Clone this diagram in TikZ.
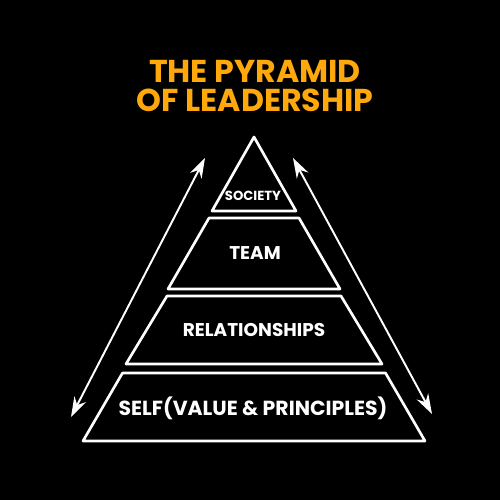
\documentclass[tikz,border=0pt]{standalone}
\usepackage{fontspec}
\setmainfont{Poppins}
\usetikzlibrary{arrows.meta}

\definecolor{titleorange}{RGB}{255,168,12}

\begin{document}
\begin{tikzpicture}
%\draw [help lines] (0,0) grid (10,10);
    \fill [black] (0,0) rectangle (10,10);
    \useasboundingbox (0,0) rectangle (10,10);
    \tikzset{tier/.style = {draw = white, line width = 1.5pt, line join = round},
             lbl/.style = {text = white, font = \bfseries, inner sep = 0pt}}
    % title
    \node [text = titleorange, align = center, font = \fontsize{18}{16.5}\selectfont\bfseries, inner sep = 0pt] (title) at (5.1,8.27) {THE PYRAMID\\OF LEADERSHIP};
    % pyramid
    \draw [tier] (5.08,7.26) -- (5.92,5.78) -- (4.24,5.78) -- cycle;
    \draw [tier] (4.18,5.64) -- (5.98,5.64) -- (6.80,4.22) -- (3.36,4.22) -- cycle;
    \draw [tier] (3.34,4.08) -- (6.82,4.08) -- (7.64,2.72) -- (2.52,2.72) -- cycle;
    \draw [tier] (2.45,2.54) -- (7.71,2.54) -- (8.50,1.18) -- (1.66,1.18) -- cycle;
    \node [lbl, font = \fontsize{7.5}{9}\selectfont\bfseries] (soc) at (5.06,6.08) {SOCIETY};
    \node [lbl, font = \fontsize{10.5}{12}\selectfont\bfseries] (team) at (5.1,4.94) {TEAM};
    \node [lbl, font = \fontsize{10.5}{12}\selectfont\bfseries] (rel) at (5.08,3.4) {RELATIONSHIPS};
    \node [lbl, font = \fontsize{11.6}{14}\selectfont\bfseries] (self) at (5.06,1.84) {SELF(VALUE \& PRINCIPLES)};
    % side arrows
    \coordinate (lu) at (4.1,6.84);
    \coordinate (ld) at (1.42,1.66);
    \coordinate (ru) at (5.86,6.84);
    \coordinate (rd) at (8.64,1.72);
    \draw [white, line width = 1.1pt, {Stealth[length=4mm,width=2.6mm]}-{Stealth[length=4mm,width=2.6mm]}] (lu) -- (ld);
    \draw [white, line width = 1.1pt, {Stealth[length=4mm,width=2.6mm]}-{Stealth[length=4mm,width=2.6mm]}] (ru) -- (rd);
\end{tikzpicture}
\end{document}
